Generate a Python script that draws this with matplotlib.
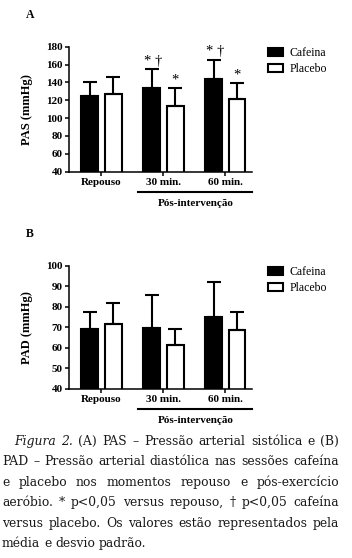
import matplotlib
matplotlib.use("Agg")
import matplotlib.pyplot as plt
from matplotlib.font_manager import FontProperties
import numpy as np

plt.rcParams['font.family'] = ['Liberation Serif', 'DejaVu Serif']

# dados
grupos = ["Repouso", "30 min.", "60 min."]
pas_caf = [125, 134, 143.5]
pas_caf_dp = [15, 20.5, 22]
pas_pla = [127, 113.5, 121]
pas_pla_dp = [19, 20, 18]
pas_marca_caf = ["", "* \u2020", "* \u2020"]
pas_marca_pla = ["", "*", "*"]

pad_caf = [69, 69.8, 75]
pad_caf_dp = [8.6, 15.7, 17]
pad_pla = [71.8, 61.4, 68.7]
pad_pla_dp = [10, 7.9, 8.7]

W, H = 352, 558
fig = plt.figure(figsize=(W / 100, H / 100), dpi=100)


def px(x, y):
    # pixel (topo-esquerda) -> fracao da figura
    return x / W, 1 - y / H


def painel(top, bottom, caf, caf_dp, pla, pla_dp, yticks, ylabel, letra,
           marca_caf=None, marca_pla=None):
    left, right = 69, 252
    ax = fig.add_axes([left / W, 1 - bottom / H, (right - left) / W, (bottom - top) / H])
    x = np.arange(len(grupos))
    w = 0.27
    off = 0.19
    ek = dict(lw=1.5, capsize=5, capthick=1.5, ecolor="black", zorder=3)
    ax.bar(x - off, caf, w, color="black", edgecolor="black", lw=1.5, label="Cafeina", zorder=2)
    ax.errorbar(x - off, caf, yerr=[np.zeros(len(caf)), caf_dp], fmt="none", **ek)
    ax.bar(x + off, pla, w, color="white", edgecolor="black", lw=1.5, label="Placebo", zorder=2)
    ax.errorbar(x + off, pla, yerr=[np.zeros(len(pla)), pla_dp], fmt="none", **ek)

    if marca_caf:
        for i in range(len(grupos)):
            if marca_caf[i]:
                ax.annotate(marca_caf[i], (x[i] - off, caf[i] + caf_dp[i]), xytext=(1, 1),
                            textcoords="offset points", ha="center", va="bottom", fontsize=10.5)
            if marca_pla[i]:
                ax.annotate(marca_pla[i], (x[i] + off, pla[i] + pla_dp[i]), xytext=(0, 1),
                            textcoords="offset points", ha="center", va="bottom", fontsize=10.5)

    ax.set_xlim(-0.524, 2.43)
    ax.set_ylim(yticks[0], yticks[-1])
    ax.set_yticks(yticks)
    ax.set_xticks(x)
    ax.set_xticklabels(grupos)
    for s in ["top", "right"]:
        ax.spines[s].set_visible(False)
    for s in ["left", "bottom"]:
        ax.spines[s].set_linewidth(1.1)
    ax.tick_params(length=3, width=1.1, labelsize=8, pad=1.5)
    for t in ax.get_xticklabels() + ax.get_yticklabels():
        t.set_fontweight("bold")
    ax.set_ylabel(ylabel, fontsize=9, fontweight="bold")
    ax.yaxis.set_label_coords(-0.195, 0.5)

    # linha do pos-intervencao
    ax.plot([0.377, 1.0], [-0.16, -0.16], transform=ax.transAxes, clip_on=False,
            color="black", lw=1.5)
    ax.text(0.69, -0.255, "Pós-intervenção", transform=ax.transAxes, ha="center",
            va="center", fontsize=8, fontweight="bold")

    ax.legend(loc="upper left", bbox_to_anchor=(1.087, 0.995), frameon=False,
              fontsize=8.5, borderpad=0, borderaxespad=0, handlelength=1.25,
              handleheight=0.65, handletextpad=0.6, labelspacing=0.35)
    fig.text(*px(30, top - 32), letra, fontsize=8.5, fontweight="bold", ha="center", va="center")
    return ax


painel(46.7, 171.7, pas_caf, pas_caf_dp, pas_pla, pas_pla_dp,
       np.arange(40, 181, 20), "PAS (mmHg)", "A", pas_marca_caf, pas_marca_pla)
painel(265.7, 389, pad_caf, pad_caf_dp, pad_pla, pad_pla_dp,
       np.arange(40, 101, 10), "PAD (mmHg)", "B")

# legenda da figura (texto justificado)
linhas = [
    [("Figura", "italic"), ("2.", "italic"), ("(A)", ""), ("PAS", ""), ("\u2013", ""),
     ("Pressão", ""), ("arterial", ""), ("sistólica", ""), ("e", ""), ("(B)", "")],
    "PAD \u2013 Pressão arterial diastólica  nas sessões cafeína",
    "e placebo nos momentos repouso e pós-exercício",
    "aeróbio. * p<0,05 versus repouso, \u2020 p<0,05 cafeína",
    "versus placebo. Os valores estão representados pela",
    "média e desvio padrão.",
]
renderer = fig.canvas.get_renderer()
fonte = "DejaVu Serif"


def largura(s, tam, st="normal"):
    fp = FontProperties(family=fonte, size=tam, style=st)
    return renderer.get_text_width_height_descent(s, fp, ismath=False)[0]


# tamanho tal que a linha 2 ocupe a largura da coluna
tam = 9 * 334 / largura(linhas[1], 9)
for i, linha in enumerate(linhas):
    if isinstance(linha, str):
        linha = [(p, "") for p in linha.split()]
    x0 = 14 if i == 0 else 2
    x1 = 339
    y = 445 + 20.4 * i
    larg = [largura(p, tam, st or "normal") for p, st in linha]
    if i < len(linhas) - 1:
        gap = (x1 - x0 - sum(larg)) / (len(linha) - 1)
    else:
        gap = largura("a b", tam) - largura("ab", tam)
    xc = x0
    for (p, st), wpx in zip(linha, larg):
        fig.text(*px(xc, y), p, fontsize=tam, family=fonte, style=st or "normal",
                 ha="left", va="baseline", color="#1a1a1a")
        xc += wpx + gap

fig.savefig("out.png", dpi=100)
